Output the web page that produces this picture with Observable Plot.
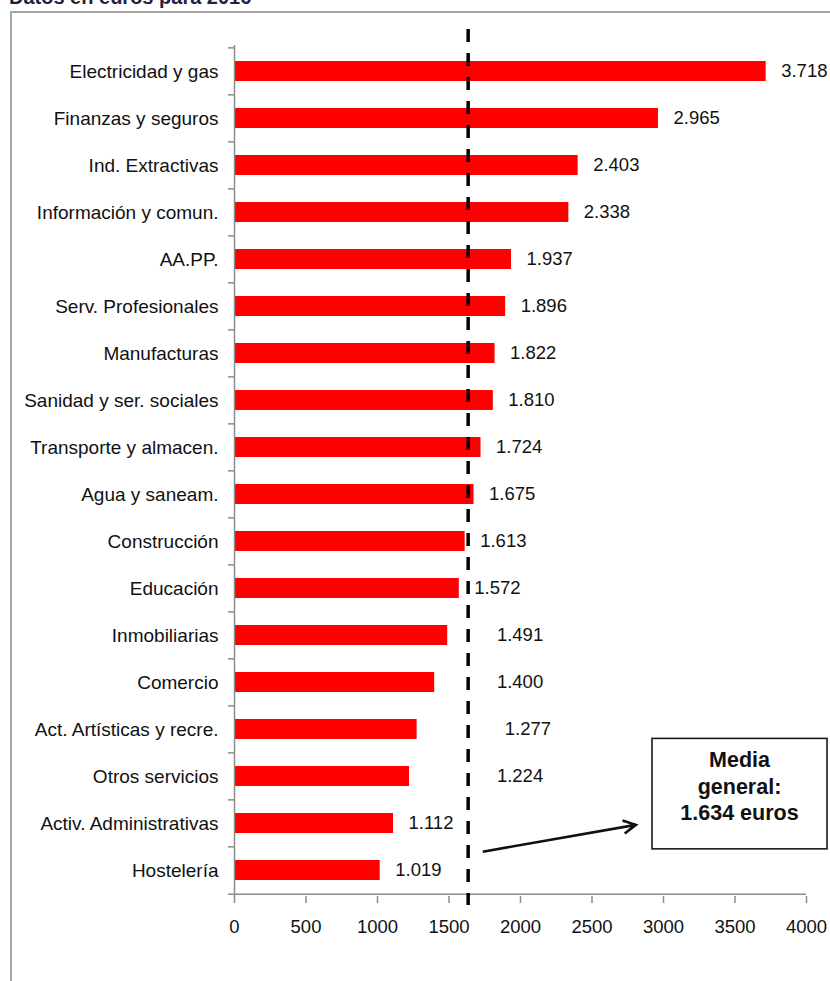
<!DOCTYPE html>
<html><head><meta charset="utf-8">
<script src="https://cdn.jsdelivr.net/npm/d3@7"></script>
<script src="https://cdn.jsdelivr.net/npm/@observablehq/plot@0.6"></script>
<style>
html,body{margin:0;padding:0;background:#fff;overflow:hidden;width:830px;height:981px}
#title{position:absolute;left:9px;top:-13px;font:bold 20px "Liberation Sans",Arial,sans-serif;color:#1f2340;line-height:20px;white-space:nowrap}
#frame{position:absolute;left:10px;top:11px;width:900px;height:1100px;border:2px solid #a6a6a6;box-sizing:border-box}
#chart{position:absolute;left:0;top:0}
</style></head><body>
<div id="title">Datos en euros para 2016</div>
<div id="frame"></div>
<div id="chart"></div>
<script>
const categories = [
  "Electricidad y gas","Finanzas y seguros","Ind. Extractivas","Información y comun.",
  "AA.PP.","Serv. Profesionales","Manufacturas","Sanidad y ser. sociales",
  "Transporte y almacen.","Agua y saneam.","Construcción","Educación",
  "Inmobiliarias","Comercio","Act. Artísticas y recre.","Otros servicios",
  "Activ. Administrativas","Hostelería"
];
const values = [3718,2965,2403,2338,1937,1896,1822,1810,1724,1675,1613,1572,1491,1400,1277,1224,1112,1019];
const meanValue = 1634;
const xTicks = [0,500,1000,1500,2000,2500,3000,3500,4000];
const annotationLines = ["Media","general:","1.634 euros"];

const data = categories.map((c, i) => ({category: c, value: values[i]}));
const fmt = d3.formatLocale({decimal: ",", thousands: ".", grouping: [3], currency: ["", "€"]}).format(",d");

// labels that the original moved to the right of the average line
const movedLabel = {"Inmobiliarias": 1730, "Comercio": 1730, "Act. Artísticas y recre.": 1785, "Otros servicios": 1730};

const FONT = '"Liberation Sans", Arial, sans-serif';
const AXIS = "#8c8c8c";

function annotation(index, scales, vals, dims) {
  const {x, y} = scales;
  const bw = y.bandwidth();
  const step = y.step();
  const yc = c => y(c) + bw / 2;
  const g = d3.create("svg:g");
  const bx0 = x(2923), bx1 = x(4147);
  const by0 = yc("Act. Artísticas y recre.") + 0.2 * step;
  const by1 = yc("Activ. Administrativas") + 0.55 * step;
  g.append("rect").attr("x", bx0).attr("y", by0).attr("width", bx1 - bx0).attr("height", by1 - by0)
    .attr("fill", "#fff").attr("stroke", "#1a1a1a").attr("stroke-width", 1.6);
  const cx = (bx0 + bx1) / 2;
  annotationLines.forEach((t, i) => {
    g.append("text").attr("x", cx).attr("y", by0 + 29 + i * 26.5)
      .attr("text-anchor", "middle").attr("font-family", FONT).attr("font-weight", "bold")
      .attr("font-size", 21.5).attr("fill", "#111").text(t);
  });
  const x1 = x(1740), y1 = yc("Hostelería") - 0.39 * step;
  const x2 = x(2810), y2 = yc("Activ. Administrativas") + 0.04 * step;
  const ang = Math.atan2(y2 - y1, x2 - x1);
  const L = 14, a = Math.PI / 6.5;
  g.append("path")
    .attr("d", `M${x1},${y1}L${x2},${y2}M${x2 - L * Math.cos(ang - a)},${y2 - L * Math.sin(ang - a)}L${x2},${y2}L${x2 - L * Math.cos(ang + a)},${y2 - L * Math.sin(ang + a)}`)
    .attr("fill", "none").attr("stroke", "#111").attr("stroke-width", 2.6).attr("stroke-linejoin", "miter");
  return g.node();
}

const STEP = (896 - 45) / categories.length;

const chart = Plot.plot({
  width: 830,
  height: 960,
  marginLeft: 234,
  marginRight: 24,
  marginTop: 45,
  marginBottom: 64,
  style: {fontFamily: FONT, fontSize: "18px", color: "#111", background: "transparent", overflow: "visible"},
  x: {domain: [0, 4000]},
  y: {domain: categories, paddingInner: 0.58, paddingOuter: 0.29},
  marks: [
    Plot.barX(data, {x: "value", y: "category", fill: "#ff0000"}),
    Plot.ruleX([0], {stroke: AXIS, strokeWidth: 1.5}),
    Plot.ruleY(categories, {y: d => d, x1: -42, x2: 0, dy: -STEP / 2, stroke: AXIS, strokeWidth: 1.5}),
    Plot.ruleY([categories[categories.length - 1]], {y: d => d, x1: -42, x2: 4000, dy: STEP / 2, stroke: AXIS, strokeWidth: 1.5}),
    Plot.axisX({ticks: xTicks, tickSize: 7, tickPadding: 16, tickFormat: d => String(d), stroke: AXIS, strokeWidth: 1.5, fontSize: 18.5, fill: "#111", label: null}),
    Plot.axisY({tickSize: 0, tickPadding: 16, fontSize: 19, fill: "#111", label: null, letterSpacing: "0.75px"}),
    Plot.text(data, {
      x: d => movedLabel[d.category] ?? d.value, y: "category",
      text: d => fmt(d.value), dx: 15, textAnchor: "start", fontSize: 18.5, fill: "#111"
    }),
    Plot.ruleX([meanValue], {stroke: "#000", strokeWidth: 3.5, strokeDasharray: "13,11", insetTop: -16, insetBottom: -9}),
    annotation
  ]
});
document.getElementById("chart").appendChild(chart);
</script>
</body></html>
